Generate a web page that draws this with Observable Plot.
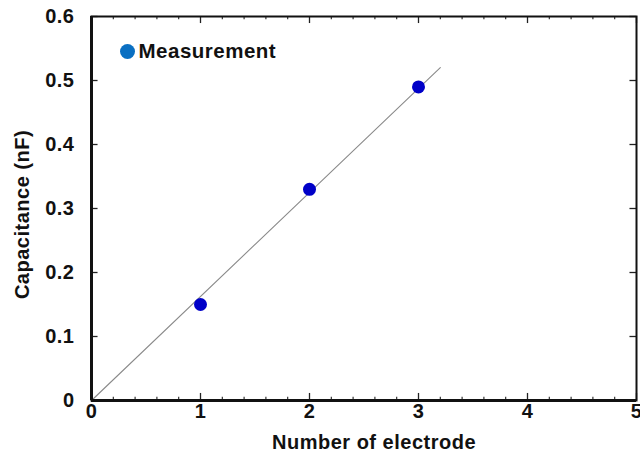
<!DOCTYPE html>
<html>
<head>
<meta charset="utf-8">
<script src="https://cdn.jsdelivr.net/npm/d3@7"></script>
<script src="https://cdn.jsdelivr.net/npm/@observablehq/plot@0.6"></script>
<style>
  html, body { margin: 0; padding: 0; background: #fff; }
  svg text { letter-spacing: 0.5px; }
</style>
</head>
<body>
<div id="chart"></div>
<script>
// Data
const electrodes = [1, 2, 3];
const capacitance = [0.15, 0.33, 0.49];
const fitX = [0, 3.2];
const fitY = [0, 0.52];
const xMajorTicks = [0, 1, 2, 3, 4, 5];
const xMinorTicks = [0.2, 0.4, 0.6, 0.8, 1.2, 1.4, 1.6, 1.8, 2.2, 2.4, 2.6, 2.8, 3.2, 3.4, 3.6, 3.8, 4.2, 4.4, 4.6, 4.8];
const yTicks = [0, 0.1, 0.2, 0.3, 0.4, 0.5, 0.6];
const yTickLabels = ["0", "0.1", "0.2", "0.3", "0.4", "0.5", "0.6"];
const xLabel = "Number of electrode";
const yLabel = "Capacitance (nF)";
const legendLabel = "Measurement";

const points = electrodes.map((x, i) => ({x, y: capacitance[i]}));
const fit = fitX.map((x, i) => ({x, y: fitY[i]}));

const font = "Liberation Sans, Arial, Helvetica, sans-serif";

const chart = Plot.plot({
  width: 640,
  height: 452,
  marginLeft: 91,
  marginRight: 4,
  marginTop: 16,
  marginBottom: 52,
  style: {fontFamily: font, fontWeight: "bold", fontSize: "20px", color: "#111", background: "#fff"},
  x: {domain: [0, 5]},
  y: {domain: [0, 0.6]},
  marks: [
    // fit line
    Plot.line(fit, {x: "x", y: "y", stroke: "#8a8a8a", strokeWidth: 1.1}),
    // inward ticks bottom/top
    Plot.ruleX(xMajorTicks, {x: d => d, y1: 0, y2: 0.011, stroke: "#222", strokeWidth: 1.3}),
    Plot.ruleX(xMinorTicks, {x: d => d, y1: 0, y2: 0.005, stroke: "#222", strokeWidth: 1.1}),
    Plot.ruleX(xMajorTicks, {x: d => d, y1: 0.6, y2: 0.589, stroke: "#222", strokeWidth: 1.3}),
    Plot.ruleX(xMinorTicks, {x: d => d, y1: 0.6, y2: 0.595, stroke: "#222", strokeWidth: 1.1}),
    // inward ticks left/right
    Plot.ruleY(yTicks, {y: d => d, x1: 0, x2: 0.06, stroke: "#222", strokeWidth: 1.3}),
    Plot.ruleY(yTicks, {y: d => d, x1: 5, x2: 4.94, stroke: "#222", strokeWidth: 1.3}),
    // frame
    Plot.frame({stroke: "#111", strokeWidth: 2}),
    Plot.ruleX([0], {stroke: "#111", strokeWidth: 3}),
    Plot.ruleY([0], {stroke: "#111", strokeWidth: 3}),
    // data points
    Plot.dot(points, {x: "x", y: "y", r: 6.5, fill: "#0000c8", stroke: "none"}),
    // axes
    Plot.axisX({ticks: xMajorTicks, tickSize: 0, tickPadding: 3, tickFormat: d => String(d), label: null, fontSize: 20, fontWeight: "bold"}),
    Plot.axisY({ticks: yTicks, tickSize: 0, tickPadding: 17, tickFormat: d => yTickLabels[yTicks.indexOf(d)], label: null, fontSize: 20, fontWeight: "bold"}),
    // axis titles
    Plot.text([xLabel], {frameAnchor: "bottom", text: d => d, dx: 10, dy: 42, lineAnchor: "middle", textAnchor: "middle", fontSize: 20, fontWeight: "bold"}),
    Plot.text([yLabel], {frameAnchor: "left", text: d => d, rotate: -90, dx: -69, dy: 6, textAnchor: "middle", lineAnchor: "middle", fontSize: 20, fontWeight: "bold"}),
    // legend
    Plot.dot([legendLabel], {frameAnchor: "top-left", dx: 36, dy: 35, r: 7.5, fill: "#0a6fc2", stroke: "none"}),
    Plot.text([legendLabel], {frameAnchor: "top-left", text: d => d, dx: 47, dy: 35, textAnchor: "start", lineAnchor: "middle", fontSize: 20.5, fontWeight: "bold"})
  ]
});
document.getElementById("chart").appendChild(chart);
</script>
</body>
</html>
